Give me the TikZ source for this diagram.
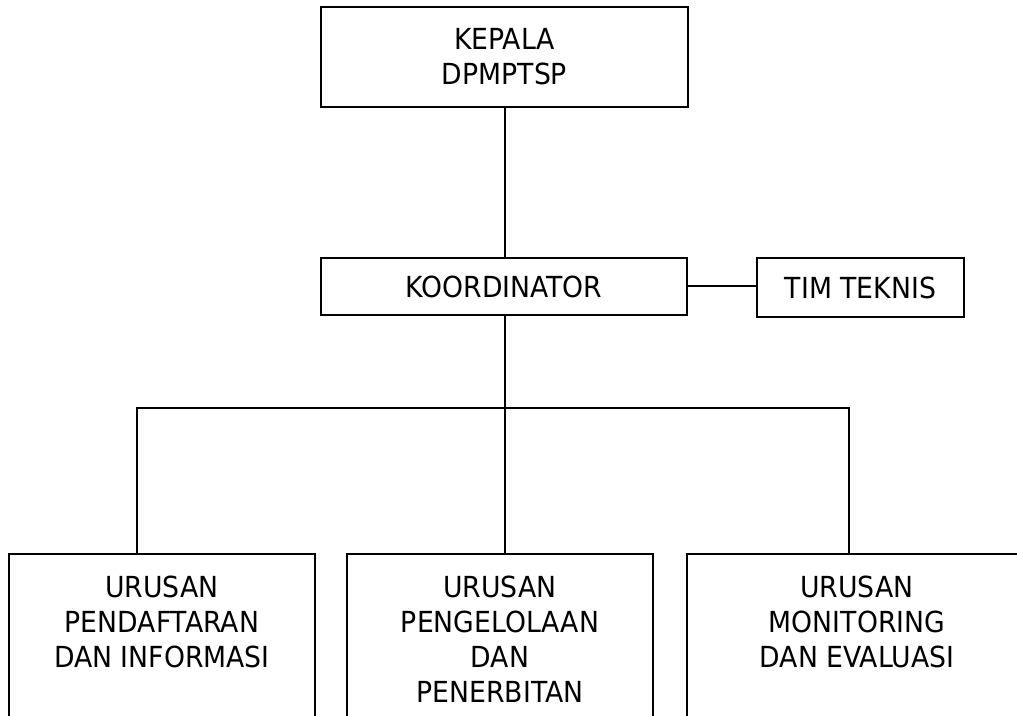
\documentclass[tikz,border=0pt]{standalone}
\usepackage{fontspec}
\setmainfont{DejaVu Sans}[FakeStretch=0.92]
\begin{document}
\begin{tikzpicture}[x=0.75pt,y=-0.75pt,
  line width=1.5pt,
  every node/.style={font=\fontsize{21.75pt}{26.25pt}\selectfont},
  orgbox/.style={draw, rectangle, align=center, inner sep=0pt, line width=1.5pt},
  orgtext/.style={align=center, inner sep=0pt, anchor=north},
  link/.style={draw, line width=1.5pt}]
\useasboundingbox (0,0) rectangle (1017,715);
\clip (0,0) rectangle (1017,715);
% top
\node[orgbox, minimum width=275.25pt, minimum height=75pt] (kep) at (504.5,57) {KEPALA\\DPMPTSP};
\node[orgbox, minimum width=274.5pt, minimum height=42.75pt] (koor) at (504,286.5) {KOORDINATOR};
\node[orgbox, minimum width=155.25pt, minimum height=44.25pt] (tim) at (860.5,287.5) {TIM TEKNIS};
% bottom boxes (cut off by the page edge)
\node[orgbox, anchor=north, minimum width=229.5pt, minimum height=150pt] (u1) at (162,553) {};
\node[orgbox, anchor=north, minimum width=229.5pt, minimum height=150pt] (u2) at (500,553) {};
\node[orgbox, anchor=north, minimum width=255pt, minimum height=150pt] (u3) at (857,553) {};
\node[orgtext] (u1t) at (162,575) {URUSAN\\PENDAFTARAN\\DAN INFORMASI};
\node[orgtext] (u2t) at (500,575) {URUSAN\\PENGELOLAAN\\DAN\\PENERBITAN};
\node[orgtext] (u3t) at (857,575) {URUSAN\\MONITORING\\DAN EVALUASI};
% coordinates
\coordinate (tl) at (687,286);
\coordinate (bl) at (137,408);
\coordinate (bc) at (505,408);
\coordinate (br) at (849,408);
% connectors
\draw[link] (kep.south -| bc) -- (koor.north -| bc);
\draw[link] (tl) -- (tim.west |- tl);
\draw[link] (koor.south -| bc) -- (bc);
\draw[link] (u1.north -| bl) -- (bl) -- (br) -- (u3.north -| br);
\draw[link] (bc) -- (u2.north -| bc);
\end{tikzpicture}
\end{document}
